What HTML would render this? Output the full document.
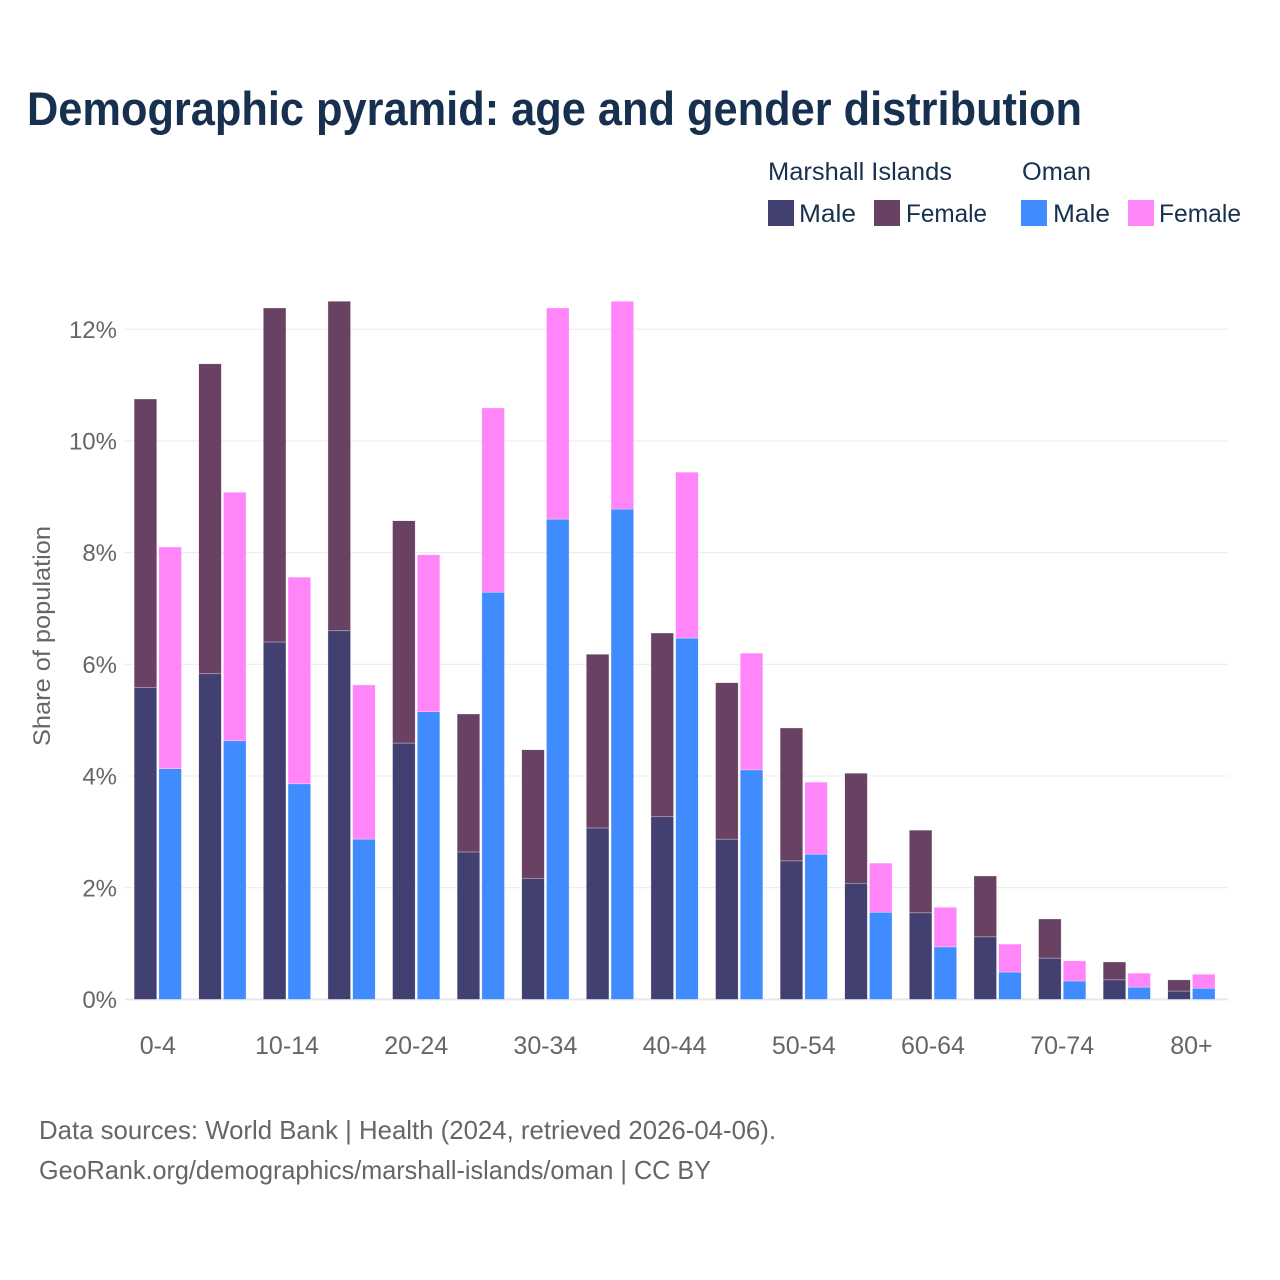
<!DOCTYPE html>
<html lang="en">
<head>
<meta charset="utf-8">
<title>Demographic pyramid: age and gender distribution</title>
<style>
  html, body { margin: 0; padding: 0; background: #fff; }
  svg { display: block; font-family: "Liberation Sans", sans-serif; }
  .legend-text { fill: #17304f; font-size: 25px; }
  .tick { fill: #666; font-size: 24px; }
  .foot { fill: #666; font-size: 26px; }
</style>
</head>
<body>
<svg id="chart" width="1280" height="1280" viewBox="0 0 1280 1280" xmlns="http://www.w3.org/2000/svg">
  <rect width="1280" height="1280" fill="#fff"/>
  <text x="27" y="125" font-size="47" font-weight="700" fill="#17304f" textLength="1055" lengthAdjust="spacingAndGlyphs">Demographic pyramid: age and gender distribution</text>

  <g>
    <text class="legend-text" x="768" y="180" textLength="184" lengthAdjust="spacingAndGlyphs">Marshall Islands</text>
    <text class="legend-text" x="1022" y="180" textLength="69" lengthAdjust="spacingAndGlyphs">Oman</text>
    <rect x="768" y="200" width="26" height="26" fill="#423f71"/>
    <text class="legend-text" x="799" y="222" textLength="57" lengthAdjust="spacingAndGlyphs">Male</text>
    <rect x="874" y="200" width="26" height="26" fill="#684163"/>
    <text class="legend-text" x="906" y="222" textLength="81" lengthAdjust="spacingAndGlyphs">Female</text>
    <rect x="1021" y="200" width="26" height="26" fill="#408cff"/>
    <text class="legend-text" x="1053" y="222" textLength="57" lengthAdjust="spacingAndGlyphs">Male</text>
    <rect x="1128" y="200" width="26" height="26" fill="#ff85f8"/>
    <text class="legend-text" x="1159" y="222" textLength="82" lengthAdjust="spacingAndGlyphs">Female</text>
  </g>

  <g id="grid"></g>
  <g id="yticks"></g>
  <g id="bars"></g>
  <g id="xticks"></g>

  <text transform="translate(50,636) rotate(-90)" text-anchor="middle" font-size="24" fill="#666" textLength="220" lengthAdjust="spacingAndGlyphs">Share of population</text>

  <text class="foot" x="39" y="1139" textLength="737" lengthAdjust="spacingAndGlyphs">Data sources: World Bank | Health (2024, retrieved 2026-04-06).</text>
  <text class="foot" x="39" y="1179" textLength="672" lengthAdjust="spacingAndGlyphs">GeoRank.org/demographics/marshall-islands/oman | CC BY</text>
</svg>
<script>
const ageGroups = ["0-4","5-9","10-14","15-19","20-24","25-29","30-34","35-39","40-44","45-49","50-54","55-59","60-64","65-69","70-74","75-79","80+"];
const shownAgeLabels = ["0-4","10-14","20-24","30-34","40-44","50-54","60-64","70-74","80+"];
const marshallMale = [5.58,5.83,6.40,6.60,4.59,2.64,2.17,3.07,3.27,2.87,2.48,2.08,1.55,1.12,0.74,0.35,0.15];
const marshallFemale = [5.17,5.55,5.98,5.90,3.98,2.47,2.30,3.11,3.29,2.80,2.38,1.97,1.48,1.09,0.70,0.32,0.20];
const omanMale = [4.13,4.63,3.86,2.87,5.15,7.29,8.60,8.78,6.47,4.11,2.60,1.56,0.94,0.49,0.33,0.22,0.20];
const omanFemale = [3.97,4.45,3.70,2.76,2.81,3.30,3.78,3.72,2.97,2.09,1.29,0.88,0.71,0.50,0.36,0.25,0.25];
const yTickValues = [0,2,4,6,8,10,12];

const NS = "http://www.w3.org/2000/svg";
const plotLeft = 125, plotRight = 1228;
const barWidth = 22.6, barOffset = 12.35;

function yScale(v) { return 999.4 - v * 55.85; }
function xCenter(i) { return 157.8 + i * 64.6; }

const gridLayer = document.getElementById("grid");
const yTickLayer = document.getElementById("yticks");
const barLayer = document.getElementById("bars");
const xTickLayer = document.getElementById("xticks");

yTickValues.forEach(function (t) {
  const line = document.createElementNS(NS, "line");
  
  
  line.setAttribute("x1", plotLeft);
  line.setAttribute("x2", plotRight);
  line.setAttribute("y1", yScale(t));
  line.setAttribute("y2", yScale(t));
  line.setAttribute("stroke", t === 0 ? "#e8e8ea" : "#ececee");
  line.setAttribute("stroke-width", t === 0 ? 2 : 1.1);
  gridLayer.appendChild(line);

  const label = document.createElementNS(NS, "text");
  
  
  label.setAttribute("class", "tick");
  label.setAttribute("x", 117);
  label.setAttribute("y", yScale(t) + 8.6);
  label.setAttribute("text-anchor", "end");
  label.textContent = t + "%";
  yTickLayer.appendChild(label);
});

function drawSegment(cx, base, value, color) {
  const rect = document.createElementNS(NS, "rect");
  
  
  rect.setAttribute("x", cx - barWidth / 2);
  rect.setAttribute("y", yScale(base + value));
  rect.setAttribute("width", barWidth);
  rect.setAttribute("height", yScale(base) - yScale(base + value));
  rect.setAttribute("fill", color);
  rect.setAttribute("stroke", "#fff");
  rect.setAttribute("stroke-width", "0.5");
  rect.setAttribute("stroke-opacity", "0.6");
  barLayer.appendChild(rect);
}

ageGroups.forEach(function (age, i) {
  const c = xCenter(i);
  drawSegment(c - barOffset, 0, marshallMale[i], "#423f71");
  drawSegment(c - barOffset, marshallMale[i], marshallFemale[i], "#684163");
  drawSegment(c + barOffset, 0, omanMale[i], "#408cff");
  drawSegment(c + barOffset, omanMale[i], omanFemale[i], "#ff85f8");

  if (shownAgeLabels.indexOf(age) !== -1) {
    const label = document.createElementNS(NS, "text");
    
    
    label.setAttribute("class", "tick");
    label.setAttribute("style", "font-size:25px");
    label.setAttribute("x", c);
    label.setAttribute("y", 1054);
    label.setAttribute("text-anchor", "middle");
    label.textContent = age;
    xTickLayer.appendChild(label);
  }
});
</script>
</body>
</html>
